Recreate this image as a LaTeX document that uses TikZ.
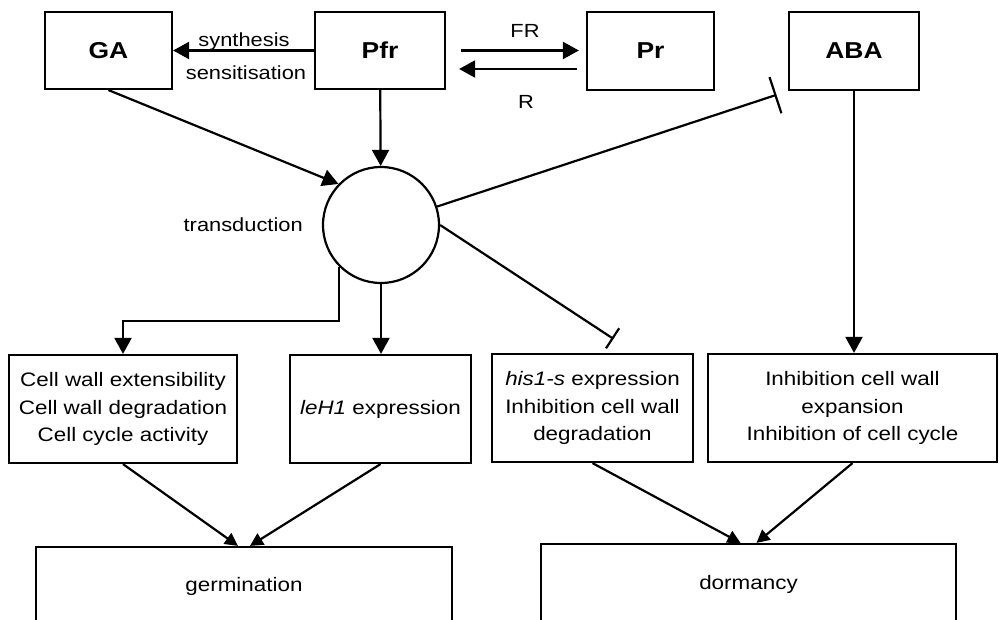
\documentclass[tikz,border=0pt]{standalone}
\usepackage{fontspec}
\setmainfont{Liberation Sans}[FakeStretch=1.15]
\usepackage{tikz}
\usetikzlibrary{arrows.meta,positioning,calc}

\begin{document}
\begin{tikzpicture}[
  x=1pt, y=-1pt,
  box/.style={rectangle, draw=black, line width=2.2pt, align=center, inner sep=0pt, font=\fontsize{19.5}{27.5}\selectfont},
  head/.style={box, font=\fontsize{23}{26}\selectfont\bfseries},
  lbl/.style={inner sep=1pt, font=\fontsize{19}{22}\selectfont},
  arrow/.style={-{Triangle[length=16pt,width=17pt]}, line width=2.2pt},
  small arrow/.style={-{Triangle[length=13pt,width=13pt]}, line width=2.2pt},
  block/.style={-{Bar[width=24pt]}, line width=2.2pt}
]
\useasboundingbox (0,0) rectangle (999,620);
\clip (0,0) rectangle (999,620);
% top row
\node[head, minimum width=127pt, minimum height=77pt] (ga) at (108.5,50.5) {GA};
\node[head, minimum width=130pt, minimum height=77pt] (pfr) at (380,50.5) {Pfr};
\node[head, minimum width=127pt, minimum height=78pt] (pr) at (650.5,51) {Pr};
\node[head, minimum width=130pt, minimum height=78pt] (aba) at (854,51) {ABA};
\node[draw, circle, line width=2.2pt, minimum size=116pt, inner sep=0pt] (circ) at (381,225) {};
\node[lbl, left=18pt of circ] (trans) {transduction};
\node[lbl, anchor=base] (syn) at (244,47) {synthesis};
\node[lbl, anchor=base] (sens) at (246,80) {sensitisation};
\node[lbl, anchor=base] (fr) at (525,38) {FR};
\node[lbl, anchor=base] (r) at (526,109) {R};
% effects
\node[box, minimum width=228pt, minimum height=108pt] (cell) at (123,409) {Cell wall extensibility\\Cell wall degradation\\Cell cycle activity};
\node[box, minimum width=181pt, minimum height=108pt] (leh) at (380.5,409) {\textit{leH1} expression};
\node[box, minimum width=201pt, minimum height=108pt] (his) at (592.5,408) {\textit{his1-s} expression\\Inhibition cell wall\\degradation};
\node[box, minimum width=289pt, minimum height=108pt] (inh) at (852.5,408) {Inhibition cell wall\\expansion\\Inhibition of cell cycle};
% outcomes
\node[box, minimum width=416pt, minimum height=78pt] (germ) at (244,586) {germination};
\node[box, minimum width=415pt, minimum height=81pt] (dorm) at (748.5,584.5) {dormancy};
\coordinate (rr) at ($(pfr.east)+(0,18.5)$);
\coordinate (hbar) at ($(his.north)+(21,-14)$);
\draw[arrow] (pfr) -- (ga);
\draw[arrow, shorten <=15pt, shorten >=7pt] (pfr.east) -- (pfr.east -| pr.west);
\draw[arrow, shorten <=9pt, shorten >=13pt] (rr -| pr.west) -- (rr);
\draw[arrow] (pfr) -- (circ);
\draw[arrow] (ga.south) -- (circ.136);
\draw[arrow] (circ.225) -- ++(0,54) -| (cell.north);
\draw[arrow] (circ.south) -- (circ.south |- leh.north);
\draw[block] (circ.east) -- (hbar);
\draw[-{Bar[width=38pt]}, line width=2.2pt, shorten >=12pt] (circ) -- (aba.south west);
\draw[arrow] (aba.south) -- (aba.south |- inh.north);
\draw[small arrow] (cell.south) -- ($(germ.north)+(-6,0)$);
\draw[small arrow] (leh.south) -- ($(germ.north)+(6,0)$);
\draw[small arrow] (his.south) -- ($(dorm.north)+(-8,0)$);
\draw[small arrow] (inh.south) -- ($(dorm.north)+(8,0)$);
\end{tikzpicture}
\end{document}
